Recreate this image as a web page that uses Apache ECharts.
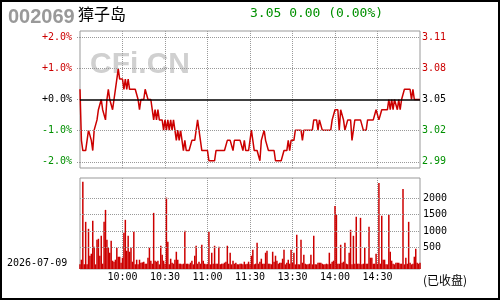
<!DOCTYPE html>
<html><head><meta charset="utf-8">
<script src="https://cdn.jsdelivr.net/npm/echarts@6/dist/echarts.min.js"></script>
<style>
html,body{margin:0;padding:0;background:#fff}
#wrap{position:relative;width:500px;height:300px}
#c{width:500px;height:300px}
#f{position:absolute;left:0;top:0;width:500px;height:300px;box-sizing:border-box;border:2px solid #000;pointer-events:none}
</style>
</head><body>
<div id="wrap"><div id="c"></div><div id="f"></div></div>
<script>
const stockCode = '002069';
const stockName = '獐子岛';
const tradeDate = '2026-07-09';
const quoteText = '3.05 0.00 (0.00%)';
const closedText = '(已收盘)';
const watermark = 'CFi.CN';
const preClose = 3.05;

const prices = [
3.06,3.01,3.00,3.00,3.00,3.00,3.02,3.02,3.01,3.00,
3.02,3.02,3.03,3.04,3.04,3.05,3.04,3.04,3.03,3.05,
3.06,3.05,3.05,3.04,3.05,3.06,3.07,3.08,3.07,3.07,
3.07,3.06,3.07,3.06,3.07,3.06,3.06,3.06,3.06,3.06,
3.06,3.05,3.04,3.05,3.05,3.05,3.06,3.06,3.05,3.05,
3.05,3.04,3.03,3.04,3.03,3.04,3.03,3.03,3.03,3.02,
3.03,3.02,3.03,3.02,3.03,3.02,3.03,3.02,3.01,3.02,
3.01,3.02,3.01,3.00,3.01,3.00,3.00,3.00,3.00,3.01,
3.01,3.01,3.02,3.03,3.02,3.01,3.00,3.00,3.00,3.00,
3.00,2.99,2.99,2.99,2.99,2.99,3.00,3.00,3.00,3.00,
3.00,3.00,3.00,3.00,3.01,3.01,3.01,3.01,3.00,3.01,
3.01,3.01,3.01,3.01,3.01,3.00,3.01,3.00,3.00,3.00,
3.01,3.02,3.01,3.00,3.00,3.00,3.00,2.99,3.01,3.01,
3.02,3.01,3.01,3.00,3.00,3.00,3.00,3.00,2.99,2.99,
2.99,2.99,2.99,2.99,3.00,3.00,3.00,3.01,3.00,3.01,
3.01,3.01,3.02,3.02,3.02,3.02,3.02,3.01,3.02,3.02,
3.02,3.02,3.02,3.02,3.02,3.03,3.03,3.03,3.02,3.03,
3.03,3.02,3.02,3.02,3.02,3.02,3.02,3.02,3.03,3.03,
3.04,3.04,3.04,3.02,3.04,3.04,3.03,3.02,3.02,3.03,
3.03,3.03,3.01,3.02,3.03,3.03,3.03,3.03,3.03,3.03,
3.02,3.02,3.02,3.03,3.03,3.03,3.03,3.03,3.03,3.04,
3.04,3.03,3.03,3.04,3.04,3.04,3.04,3.04,3.05,3.04,
3.05,3.04,3.05,3.05,3.04,3.05,3.04,3.05,3.05,3.06,
3.06,3.06,3.06,3.06,3.05,3.06,3.05,3.05,3.05,3.05,
3.05];

const volumes = [
0,140,2490,0,1280,0,1070,260,320,1310,
530,0,740,770,260,860,20,1280,1640,740,
500,350,710,110,80,140,500,230,230,50,
200,950,1340,410,860,380,500,80,980,0,
140,0,140,50,60,80,20,20,200,500,
110,20,1550,110,80,110,0,560,290,110,
20,2010,680,0,170,50,20,140,380,140,
20,20,0,20,1010,20,20,0,50,110,
0,260,560,20,80,20,590,110,20,0,
20,980,0,350,20,560,20,20,530,0,
20,20,50,80,560,20,350,0,110,20,
50,0,0,20,20,0,80,0,20,80,
0,260,440,0,20,650,20,80,170,20,
20,350,410,20,20,0,380,80,260,110,
20,50,50,170,440,0,50,140,20,440,
50,350,0,890,0,0,740,50,290,20,
0,0,20,290,0,860,0,0,50,50,
50,20,0,0,20,0,350,20,80,110,
1760,1490,20,20,590,50,80,650,20,0,
350,1040,0,860,20,1430,20,20,1400,0,
20,500,20,20,1130,200,200,20,20,320,
20,2450,20,1460,140,140,0,0,1490,380,
110,20,0,50,50,50,20,20,2270,0,
200,20,1280,50,0,20,230,470,50,20,
50];

const timeTicks = ['10:00','10:30','11:00','11:30','13:30','14:00','14:30'];
const pctTicks = [-2,-1,0,1,2];
const volTicks = [500,1000,1500,2000];

function hm(m){const h=Math.floor(m/60), mm=m%60; return h+':'+(mm<10?'0':'')+mm;}
const times = [];
for (let m = 9*60+30; m <= 11*60+30; m++) times.push(hm(m));
for (let m = 13*60+1; m <= 15*60; m++) times.push(hm(m));

const pctData = prices.map(p => (p - preClose) / preClose * 100);

const RED = '#cc0000', GREEN = '#009000', GRID = '#999';
const MONO = '"DejaVu Sans Mono", monospace';
const tickFn = (idx, val) => timeTicks.indexOf(val) >= 0;
const pctColor = v => { v = Number(v); return v > 0 ? RED : (v < 0 ? GREEN : '#000'); };

const chart = echarts.init(document.getElementById('c'), null, {renderer: 'canvas'});
chart.setOption({
  animation: false,
  backgroundColor: '#fff',
  grid: [
    {left: 80, top: 31, width: 340, height: 137, show: true, borderColor: GRID, borderWidth: 1, backgroundColor: 'transparent'},
    {left: 80, top: 178, width: 340, height: 91, show: true, borderColor: GRID, borderWidth: 1, backgroundColor: 'transparent'}
  ],
  xAxis: [
    {type: 'category', gridIndex: 0, data: times, boundaryGap: false,
     axisLine: {show: false}, axisTick: {show: false}, axisLabel: {show: false},
     splitLine: {show: true, interval: tickFn, lineStyle: {color: GRID, type: 'dotted', width: 1}}},
    {type: 'category', gridIndex: 1, data: times, boundaryGap: false,
     axisLine: {show: false}, axisTick: {show: false},
     axisLabel: {show: true, interval: tickFn, margin: 3, color: '#000', fontFamily: MONO, fontSize: 10},
     splitLine: {show: true, interval: tickFn, lineStyle: {color: GRID, type: 'dotted', width: 1}}}
  ],
  yAxis: [
    {type: 'value', gridIndex: 0, position: 'left', min: -2.2, max: 2.2,
     axisLine: {show: false}, splitLine: {show: false},
     axisTick: {show: true, customValues: pctTicks, length: 4, lineStyle: {color: GRID, type: 'dotted'}},
     axisLabel: {customValues: pctTicks, margin: 8, fontFamily: MONO, fontSize: 10, color: pctColor,
       formatter: v => (v >= 0 ? '+' : '') + Number(v).toFixed(1) + '%'}},
    {type: 'value', gridIndex: 0, position: 'right', min: -2.2, max: 2.2,
     axisLine: {show: false}, splitLine: {show: false},
     axisTick: {show: false},
     axisLabel: {customValues: pctTicks, margin: 2, fontFamily: MONO, fontSize: 10, color: pctColor,
       formatter: v => (preClose * (1 + Number(v) / 100)).toFixed(2)}},
    {type: 'value', gridIndex: 1, position: 'right', min: -140, max: 2600, startValue: -140,
     axisLine: {show: false}, splitLine: {show: false}, axisTick: {show: false},
     axisLabel: {customValues: volTicks, margin: 3, fontFamily: MONO, fontSize: 10, color: '#000',
       formatter: v => String(Math.round(Number(v)))}}
  ],
  graphic: [
    {type: 'text', left: 90, top: 50, z: 0, silent: true,
     style: {text: watermark, font: 'bold 30px "Liberation Sans"', fill: '#d0d0d0'}},
    {type: 'text', left: 8, top: 7.5, silent: true,
     style: {text: stockCode, font: 'bold 20px "Liberation Sans"', fill: '#999'}},
    {type: 'text', left: 78, top: 5.5, silent: true,
     style: {text: stockName, font: '16px "Noto Sans CJK SC"', fill: '#000'}},
    {type: 'text', left: 250, top: 7, silent: true,
     style: {text: quoteText, font: '13px ' + MONO, fill: GREEN}},
    {type: 'text', left: 7, top: 258, silent: true,
     style: {text: tradeDate, font: '10px ' + MONO, fill: '#000'}},
    {type: 'text', left: 423, top: 274, silent: true,
     style: {text: closedText, font: '12px "Noto Sans CJK SC"', fill: '#000'}}
  ],
  series: [
    {type: 'line', xAxisIndex: 0, yAxisIndex: 0, data: pctData, showSymbol: false, symbol: 'none',
     lineStyle: {color: RED, width: 1.5}, z: 3,
     markLine: {silent: true, symbol: 'none', label: {show: false}, animation: false,
       data: [
         {yAxis: 2, lineStyle: {color: GRID, type: 'dotted', width: 1}},
         {yAxis: 1, lineStyle: {color: GRID, type: 'dotted', width: 1}},
         {yAxis: -1, lineStyle: {color: GRID, type: 'dotted', width: 1}},
         {yAxis: -2, lineStyle: {color: GRID, type: 'dotted', width: 1}},
         {yAxis: 0, lineStyle: {color: '#000', type: 'solid', width: 1.5}}
       ]}},
    {type: 'bar', xAxisIndex: 1, yAxisIndex: 2, data: volumes, barWidth: 1.5,
     itemStyle: {color: RED}, z: 3,
     markLine: {silent: true, symbol: 'none', label: {show: false}, animation: false,
       data: volTicks.map(v => ({yAxis: v, lineStyle: {color: GRID, type: 'dotted', width: 1}}))}}
  ]
});
</script>
</body></html>
